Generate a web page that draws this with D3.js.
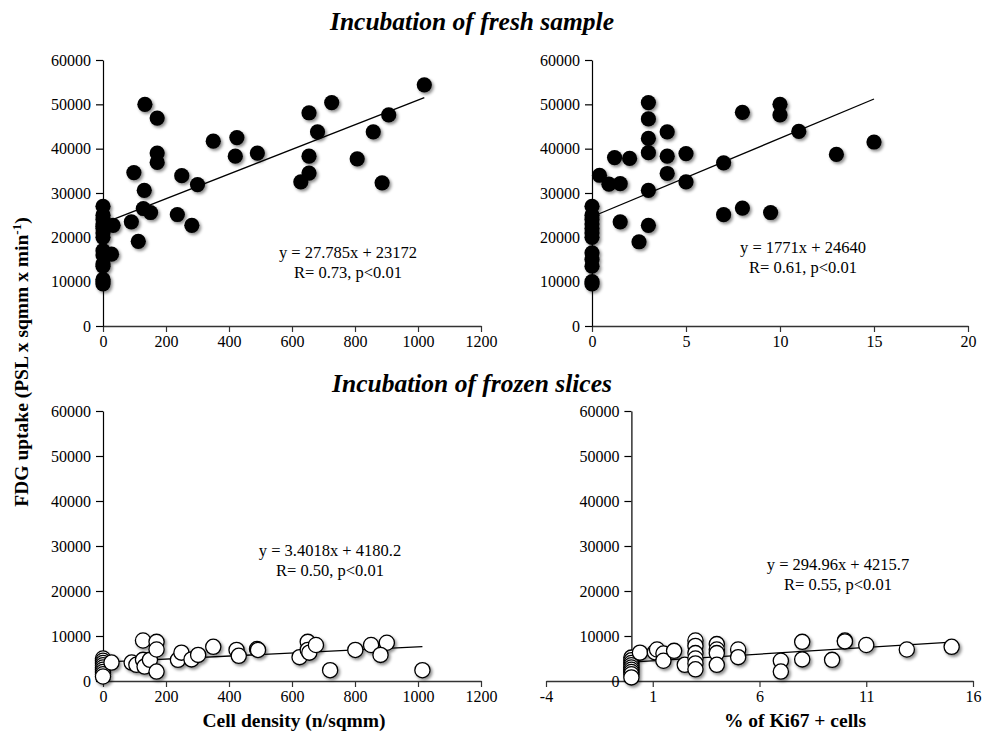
<!DOCTYPE html>
<html>
<head>
<meta charset="utf-8">
<script src="https://cdn.jsdelivr.net/npm/d3@7"></script>
<style>
  body { margin: 0; background: #fff; }
</style>
</head>
<body>
<svg id="chart" width="993" height="737" font-family="'Liberation Serif', 'Times New Roman', 'DejaVu Serif', serif"></svg>
<script>
// ---------- DATA ----------
const titles = ["Incubation of fresh sample", "Incubation of frozen slices"];
const yAxisTitle = "FDG uptake (PSL x sqmm x min";
const xAxisTitles = ["Cell density (n/sqmm)", "% of Ki67 + cells"];

const yTicks = [0, 10000, 20000, 30000, 40000, 50000, 60000];
const densityTicks = [0, 200, 400, 600, 800, 1000, 1200];
const ki67TicksFresh = [0, 5, 10, 15, 20];
const ki67TicksFrozen = [-4, 1, 6, 11, 16];

// Panel A: fresh sample, cell density
const freshDensityX = [0,0,0,0,0,0,0,0,0,0,0,0,0,0,0,
  27,32,90,98,112,128,131,133,151,172,172,172,236,250,282,300,350,420,425,490,
  628,654,654,654,681,726,807,858,886,907,1020];
const freshDensityY = [27000,25000,24000,23000,22500,22000,21000,20000,17000,16000,14000,13500,10500,10000,9500,
  16200,22700,23500,34600,19100,26500,30600,50000,25600,46900,39000,36900,25150,33900,22700,31900,41700,38300,42500,39000,
  32500,48100,38300,34500,43800,50400,37700,43800,32300,47600,54400];

// Panel B: fresh sample, Ki67
const freshKi67X = [0,0,0,0,0,0,0,0,0,0,0,0,
  0.4,0.9,1.2,1.5,1.5,2.0,2.5,3,3,3,3,3,3,4,4,4,5,5,7,7,8,8,9.5,10,10,11,13,15];
const freshKi67Y = [27000,25000,24000,23000,22000,21000,20000,16500,15000,13500,10000,9500,
  34000,32000,38000,32100,23500,37800,19000,50400,46700,42300,39100,30600,22700,43800,38300,34400,38900,32500,
  36800,25100,48200,26600,25600,50000,47600,43900,38700,41500];

// Panel C: frozen slices, cell density
const frozenDensityX = [0,0,0,0,0,0,0,0,0,
  27,91,106,127,127,132,149,170,170,170,238,249,281,302,350,424,431,489,492,
  624,650,650,655,676,721,801,851,901,881,1014];
const frozenDensityY = [5000,4500,4000,3500,3000,2500,2000,1500,1000,
  4100,4100,3600,4700,9000,3200,4700,8700,7000,2100,4700,6300,4800,5800,7600,6900,5600,7100,6900,
  5300,8700,6900,6300,8000,2400,6900,8000,8500,5800,2400];

// Panel D: frozen slices, Ki67
const frozenKi67X = [0,0,0,0,0,0,0,0,0,
  0.4,1.1,1.2,1.5,1.5,2,2.5,3,3,3,3,3,3,4,4,4,4,5,5,7,7,8,8,9.4,10,10,11,12.9,15];
const frozenKi67Y = [5200,4600,4000,3500,3000,2500,2000,1500,800,
  6300,6400,7000,6100,4500,6700,3600,9000,7800,6200,5000,3900,2600,8200,7000,6200,3600,7000,5300,
  4500,2100,8700,4800,4700,9000,8800,8000,7000,7600];

// Trend lines (slope, intercept) and their labels
const trendSlopes = [27.785, 1771, 3.4018, 294.96];
const trendIntercepts = [23172, 24640, 4180.2, 4215.7];
const equationLabels = ["y = 27.785x + 23172", "y = 1771x + 24640", "y = 3.4018x + 4180.2", "y = 294.96x + 4215.7"];
const statLabels = ["R= 0.73, p<0.01", "R= 0.61, p<0.01", "R= 0.50, p<0.01", "R= 0.55, p<0.01"];

// ---------- LAYOUT ----------
const FONT = "'Liberation Serif', 'Times New Roman', 'DejaVu Serif', serif";
const panels = [
  { xs: freshDensityX, ys: freshDensityY, xDomain: [0, 1200], xTicks: densityTicks,
    left: 103, right: 481, top: 60, bottom: 326, filled: true, eqX: 348, eqY: 258 },
  { xs: freshKi67X, ys: freshKi67Y, xDomain: [0, 20], xTicks: ki67TicksFresh,
    left: 592, right: 968, top: 60, bottom: 326, filled: true, eqX: 803, eqY: 253 },
  { xs: frozenDensityX, ys: frozenDensityY, xDomain: [0, 1200], xTicks: densityTicks,
    left: 103, right: 481, top: 411, bottom: 681, filled: false, eqX: 330, eqY: 556 },
  { xs: frozenKi67X, ys: frozenKi67Y, xDomain: [-4, 16], xTicks: ki67TicksFrozen,
    left: 546, right: 973, top: 411, bottom: 681, filled: false, eqX: 838, eqY: 570 }
];

const svg = d3.select("#chart");
const defs = svg.append("defs");
const f = defs.append("filter").attr("id", "shadow").attr("x", "-50%").attr("y", "-50%").attr("width", "200%").attr("height", "200%");
f.append("feDropShadow").attr("dx", 1.8).attr("dy", 2).attr("stdDeviation", 1.4)
  .attr("flood-color", "#000").attr("flood-opacity", 0.45);

const tickFont = 16;
const plainFormat = d => String(d);

panels.forEach((p, i) => {
  const x = d3.scaleLinear().domain(p.xDomain).range([p.left, p.right]);
  const y = d3.scaleLinear().domain([0, 60000]).range([p.bottom, p.top]);
  const g = svg.append("g");

  // x axis
  const xa = g.append("g").attr("transform", `translate(0,${p.bottom})`)
    .call(d3.axisBottom(x).tickValues(p.xTicks).tickSize(6).tickSizeOuter(0).tickFormat(plainFormat));
  xa.attr("font-family", FONT).attr("font-size", tickFont);
  xa.select(".domain").attr("stroke", "#333").attr("stroke-width", 1.6);
  xa.selectAll(".tick line").attr("stroke", "#333").attr("stroke-width", 1.2);
  xa.selectAll("text").attr("dy", "0.75em");

  // y axis positioned at x = 0
  const yx = x(0);
  const ya = g.append("g").attr("transform", `translate(${yx},0)`)
    .call(d3.axisLeft(y).tickValues(yTicks).tickSize(7).tickSizeOuter(0).tickFormat(plainFormat));
  ya.attr("font-family", FONT).attr("font-size", tickFont);
  ya.select(".domain").attr("stroke", "#000").attr("stroke-width", 1.2);
  ya.selectAll(".tick line").attr("stroke", "#000").attr("stroke-width", 1.2);
  ya.selectAll("text").attr("x", -12);

  // trend line
  const xMin = d3.min(p.xs), xMax = d3.max(p.xs);
  g.append("line")
    .attr("x1", x(xMin)).attr("y1", y(trendSlopes[i] * xMin + trendIntercepts[i]))
    .attr("x2", x(xMax)).attr("y2", y(trendSlopes[i] * xMax + trendIntercepts[i]))
    .attr("stroke", "#000").attr("stroke-width", 1.3);

  // points
  const pts = p.xs.map((v, k) => [v, p.ys[k]]);
  g.append("g").attr("filter", "url(#shadow)")
    .selectAll("circle").data(pts).join("circle")
    .attr("cx", d => x(d[0])).attr("cy", d => y(d[1])).attr("r", 7.6)
    .attr("fill", p.filled ? "#000" : "#fff")
    .attr("stroke", "#000").attr("stroke-width", p.filled ? 0 : 1.3);

  // equation labels
  g.append("text").attr("x", p.eqX).attr("y", p.eqY).attr("text-anchor", "middle")
    .attr("font-size", 16.5).text(equationLabels[i]);
  g.append("text").attr("x", p.eqX).attr("y", p.eqY + 20).attr("text-anchor", "middle")
    .attr("font-size", 16.5).text(statLabels[i]);
});

// Titles
svg.append("text").attr("x", 472).attr("y", 30).attr("text-anchor", "middle")
  .attr("font-size", 25.5).attr("font-weight", "bold").attr("font-style", "italic").text(titles[0]);
svg.append("text").attr("x", 472).attr("y", 392).attr("text-anchor", "middle")
  .attr("font-size", 25.5).attr("font-weight", "bold").attr("font-style", "italic").text(titles[1]);

// Y axis title
const yt = svg.append("text").attr("transform", "translate(28,362) rotate(-90)")
  .attr("text-anchor", "middle").attr("font-size", 19.5).attr("font-weight", "bold");
yt.append("tspan").text(yAxisTitle);
yt.append("tspan").attr("font-size", 13).attr("dy", -7).text("-1");
yt.append("tspan").attr("dy", 7).text(")");

// X axis titles
svg.append("text").attr("x", 294).attr("y", 727).attr("text-anchor", "middle")
  .attr("font-size", 19.5).attr("font-weight", "bold").text(xAxisTitles[0]);
svg.append("text").attr("x", 795).attr("y", 727).attr("text-anchor", "middle")
  .attr("font-size", 19.5).attr("font-weight", "bold").text(xAxisTitles[1]);
</script>
</body>
</html>
